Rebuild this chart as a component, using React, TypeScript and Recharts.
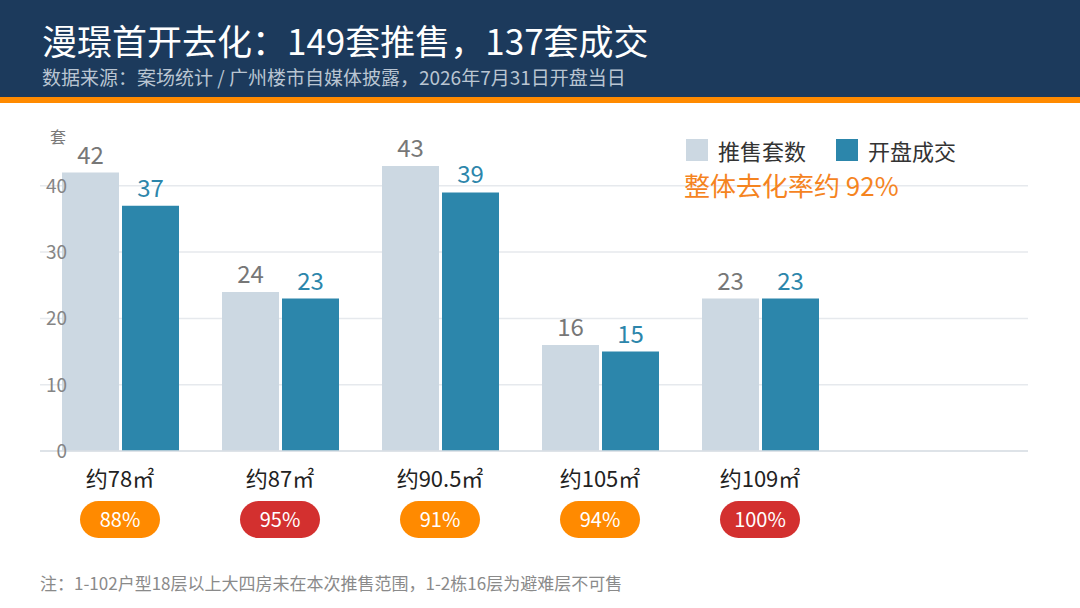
import React from "react";
import {
  BarChart,
  Bar,
  XAxis,
  YAxis,
  CartesianGrid,
  Legend,
  LabelList,
} from "recharts";

// 户型 / 推售 / 成交 / 去化率
const unitTypes = ["约78㎡", "约87㎡", "约90.5㎡", "约105㎡", "约109㎡"];
const offered = [42, 24, 43, 16, 23];
const sold = [37, 23, 39, 15, 23];
const sellRate = [88, 95, 91, 94, 100];
const yTicks = [0, 10, 20, 30, 40];
const seriesOrder = ["offered", "sold"];

const data = unitTypes.map((name, i) => ({
  name,
  offered: offered[i],
  sold: sold[i],
  rate: sellRate[i],
}));

const FONT = '"Noto Sans CJK SC", "Noto Sans", sans-serif';
const GRAY = "#CCD8E2";
const BLUE = "#2C86AB";
const ORANGE = "#FF8A00";
const RED = "#D3302F";

const YTick = (props: any) => {
  const { y, payload } = props;
  return (
    <text x={67} y={y} dy={7} textAnchor="end" fill="#858585" fontSize={19} fontFamily={FONT}>
      {payload.value}
    </text>
  );
};

const XTick = (props: any) => {
  const { x, payload, index } = props;
  const rate = sellRate[index];
  const bg = rate >= 95 ? RED : ORANGE;
  return (
    <g>
      <text x={x} y={487} textAnchor="middle" fill="#222" fontSize={22} fontFamily={FONT}>
        {payload.value}
      </text>
      <rect x={x - 40} y={501} width={80} height={37} rx={18.5} fill={bg} />
      <text x={x} y={527} textAnchor="middle" fill="#fff" fontSize={20} fontFamily={FONT}>
        {rate}%
      </text>
    </g>
  );
};

const LegendBox = (props: any) => {
  const items = [...(props.payload || [])].sort(
    (a: any, b: any) => seriesOrder.indexOf(a.dataKey) - seriesOrder.indexOf(b.dataKey)
  );
  return (
    <div style={{ fontFamily: FONT }}>
      <div style={{ display: "flex", alignItems: "center" }}>
        {items.map((p: any) => (
          <div key={p.value} style={{ display: "flex", alignItems: "center", marginRight: 30 }}>
            <span style={{ width: 22, height: 22, background: p.color, display: "inline-block", marginRight: 10 }} />
            <span style={{ fontSize: 22, color: "#333" }}>{p.value}</span>
          </div>
        ))}
      </div>
      <div style={{ color: "#F5841F", fontSize: 26, marginTop: 0, marginLeft: -2 }}>整体去化率约 92%</div>
    </div>
  );
};

export default function App() {
  return (
    <div style={{ position: "absolute", left: 0, top: 0, width: 1080, height: 608, background: "#fff", fontFamily: FONT, overflow: "hidden" }}>
      <div style={{ position: "absolute", left: 0, top: 0, width: 1080, height: 97, background: "#1C3A5C" }}>
        <div style={{ position: "absolute", left: 42, top: 21, color: "#fff", fontSize: 35, lineHeight: "38px", whiteSpace: "nowrap" }}>
          漫璟首开去化：149套推售，137套成交
        </div>
        <div style={{ position: "absolute", left: 42, top: 66, color: "#B9C5D2", fontSize: 19, lineHeight: "22px", whiteSpace: "nowrap" }}>
          数据来源：案场统计 / 广州楼市自媒体披露，2026年7月31日开盘当日
        </div>
      </div>
      <div style={{ position: "absolute", left: 0, top: 97, width: 1080, height: 6, background: ORANGE }} />

      <div style={{ position: "absolute", left: 0, top: 0 }}>
        <BarChart
          width={1080}
          height={608}
          data={data}
          margin={{ top: 119.5, right: 52, left: 14, bottom: 97 }}
          barCategoryGap={22}
          barGap={3}
        >
          <CartesianGrid vertical={false} horizontalValues={yTicks} stroke="#E6E9ED" strokeWidth={1.5} />
          <YAxis
            width={26}
            domain={[0, 50]}
            ticks={yTicks}
            axisLine={false}
            tickLine={false}
            tick={<YTick />}
          />
          <XAxis
            dataKey="name"
            height={60}
            padding={{ left: 0, right: 188 }}
            axisLine={{ stroke: "#DADFE4", strokeWidth: 1.5 }}
            tickLine={false}
            tick={<XTick />}
            interval={0}
          />
          <Legend
            layout="horizontal"
            verticalAlign="middle"
            align="center"
            content={<LegendBox />}
            wrapperStyle={{ position: "absolute", left: 686, top: 134, width: 360 }}
          />
          <Bar dataKey="offered" name="推售套数" fill={GRAY} isAnimationActive={false}>
            <LabelList dataKey="offered" position="top" offset={9} fill="#777" fontSize={24} fontFamily={FONT} />
          </Bar>
          <Bar dataKey="sold" name="开盘成交" fill={BLUE} isAnimationActive={false}>
            <LabelList dataKey="sold" position="top" offset={9} fill={BLUE} fontSize={24} fontFamily={FONT} />
          </Bar>
        </BarChart>
      </div>

      <div style={{ position: "absolute", left: 50, top: 124, color: "#7a7a7a", fontSize: 16 }}>套</div>
      <div style={{ position: "absolute", left: 40, top: 570, color: "#8a8a8a", fontSize: 17, whiteSpace: "nowrap" }}>
        注：1-102户型18层以上大四房未在本次推售范围，1-2栋16层为避难层不可售
      </div>
    </div>
  );
}
